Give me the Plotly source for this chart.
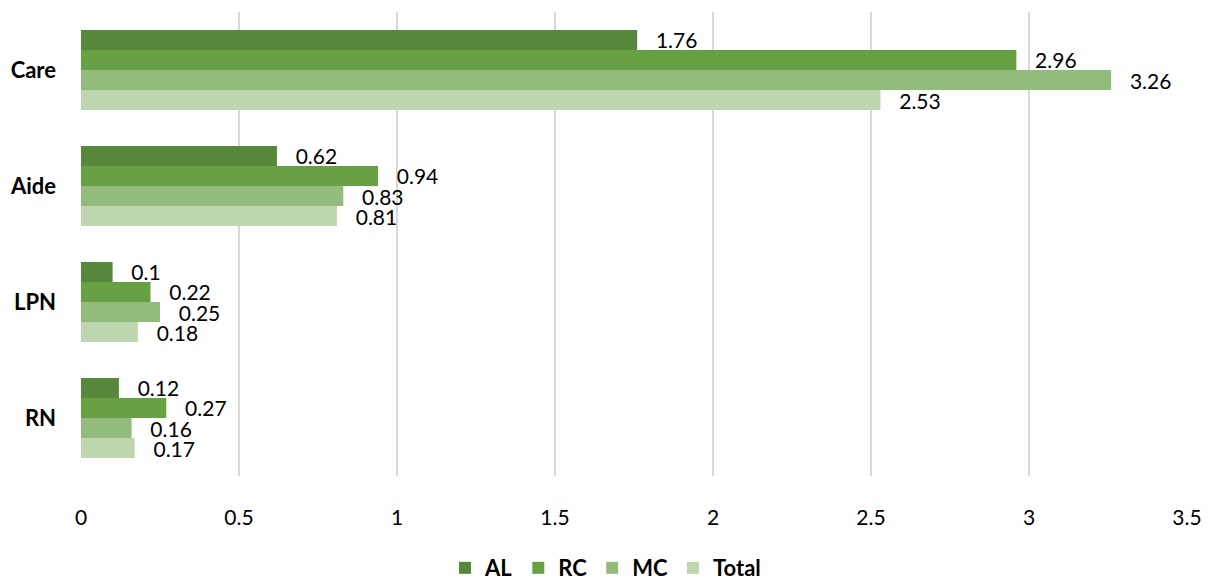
import plotly.graph_objects as go

# Staffing ratios by role, for each setting
roles = ["Care", "Aide", "LPN", "RN"]
series_names = ["AL", "RC", "MC", "Total"]
al_values = [1.76, 0.62, 0.10, 0.12]
rc_values = [2.96, 0.94, 0.22, 0.27]
mc_values = [3.26, 0.83, 0.25, 0.16]
total_values = [2.53, 0.81, 0.18, 0.17]
x_ticks = [0, 0.5, 1, 1.5, 2, 2.5, 3, 3.5]

series_values = [al_values, rc_values, mc_values, total_values]
colors = ["#56873A", "#68A044", "#93BC7C", "#BED7B1"]

FONT = "Lato, 'Open Sans', sans-serif"

fig = go.Figure()
for name, vals, col in zip(series_names, series_values, colors):
    fig.add_trace(go.Bar(
        name=name,
        y=roles,
        x=vals,
        orientation="h",
        marker=dict(color=col, line=dict(width=0)),
        text=[f"\u2003{v:g}" for v in vals],
        textposition="outside",
        constraintext="none",
        textfont=dict(size=21, color="#000000", family=FONT),
        cliponaxis=False,
        hoverinfo="x+name",
    ))

fig.update_layout(
    width=1211,
    height=582,
    barmode="group",
    bargap=0.31,
    bargroupgap=0,
    plot_bgcolor="white",
    paper_bgcolor="white",
    margin=dict(l=81, r=24, t=12, b=106, autoexpand=False),
    font=dict(family=FONT, size=21, color="#000000"),
    xaxis=dict(
        range=[0, 3.5],
        tickvals=x_ticks,
        ticktext=[f"{t:g}" for t in x_ticks],
        showgrid=True,
        gridcolor="#D9D9D9",
        gridwidth=2,
        zeroline=False,
        showline=False,
        ticks="",
        automargin=False,
        ticklabelstandoff=27,
        tickfont=dict(size=21, family=FONT),
    ),
    yaxis=dict(
        autorange="reversed",
        showgrid=False,
        showline=False,
        ticks="",
        automargin=False,
        ticklabelstandoff=24,
        tickfont=dict(size=22, family=FONT, weight="bold"),
    ),
    legend=dict(
        orientation="h",
        x=0.5,
        xanchor="center",
        xref="container",
        y=0.024,
        yanchor="middle",
        yref="container",
        font=dict(size=22, family=FONT, weight="bold"),
        itemwidth=30,
        traceorder="normal",
    ),
)

fig.write_html("out.html")
